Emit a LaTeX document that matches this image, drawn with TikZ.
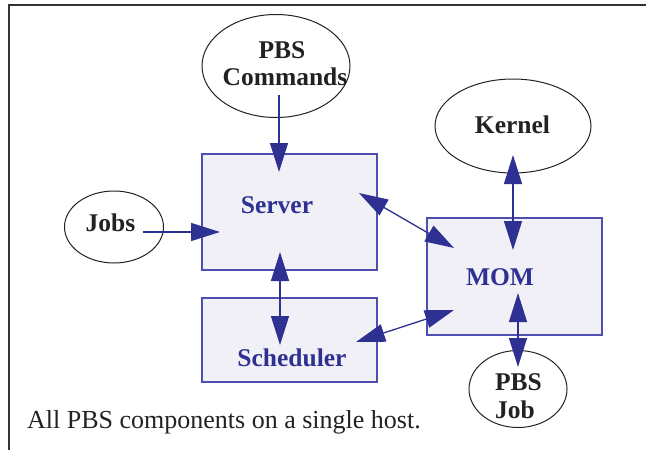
\documentclass[tikz,border=0pt]{standalone}
\usepackage{fontspec}
\setmainfont{Liberation Serif}
\usetikzlibrary{arrows.meta,shapes.geometric,calc}
\definecolor{pbsblue}{HTML}{2E3192}
\definecolor{boxedge}{HTML}{4F4FB0}
\definecolor{boxfill}{HTML}{F1F0F7}
\definecolor{inkgray}{HTML}{222222}
\begin{document}
\begin{tikzpicture}[x=1pt,y=-1pt,
  comp/.style={draw=boxedge, fill=boxfill, line width=1.2pt, rectangle, inner sep=0pt},
  ell/.style={draw=inkgray, fill=white, ellipse, line width=1pt, inner sep=0pt},
  ltxt/.style={font=\fontsize{25.5}{27}\selectfont\bfseries, text=inkgray, align=center, inner sep=0pt},
  btxt/.style={font=\fontsize{25.5}{27}\selectfont\bfseries, text=pbsblue, inner sep=0pt},
  arr/.style={draw=pbsblue, line width=1.3pt, -{Triangle[length=29pt,width=18pt]}},
  darr/.style={draw=pbsblue, line width=1.3pt, {Triangle[length=29pt,width=18pt]}-{Triangle[length=29pt,width=18pt]}}]
\useasboundingbox (0,0) rectangle (646,450);
\draw[line width=1.4pt, draw=black!80] (646,5) -- (9,5) -- (9,450);

% component boxes
\node[comp, minimum width=175pt, minimum height=116pt] (server) at (289.5,212) {};
\node[comp, minimum width=175pt, minimum height=84pt] (sched) at (289.5,340) {};
\node[comp, minimum width=175pt, minimum height=117pt] (mom) at (514.5,276.5) {};

% ellipses
\node[ell, minimum width=148pt, minimum height=103pt] (cmd) at (276,66) {};
\node[ell, minimum width=156pt, minimum height=94pt] (kernel) at (513,126) {};
\node[ell, minimum width=99pt, minimum height=72pt] (jobs) at (114,227) {};
\node[ell, minimum width=98pt, minimum height=77pt] (job) at (518,389) {};

% arrows
\draw[arr] ($(cmd.center)+(3,29)$) -- ($(server.center)+(-10.5,-40)$);
\draw[arr] ($(jobs.center)+(29,5)$) -- ($(server.center)+(-69.5,20)$);
\draw[darr] ($(server.center)+(69.5,-19)$) -- ($(mom.center)+(-60.5,-28.5)$);
\draw[darr] ($(server.center)+(-9.5,40)$) -- ($(sched.center)+(-9.5,5)$);
\draw[darr] ($(sched.center)+(66.5,2)$) -- ($(mom.center)+(-60.5,33.5)$);
\draw[darr] ($(mom.center)+(-1.5,-26.5)$) -- ($(kernel.center)+(0,29)$);
\draw[darr] ($(mom.center)+(3.5,16.5)$) -- ($(job.center)+(0,-22)$);

% labels
\node[btxt] (servert) at (277,205) {Server};
\node[btxt] (schedt) at (292,358) {Scheduler};
\node[btxt] (momt) at (500,277) {MOM};
\node[ltxt] (cmdt1) at (282,50) {PBS};
\node[ltxt] (cmdt2) at (285,77) {Commands};
\node[ltxt] (kernelt) at (512.5,125) {Kernel};
\node[ltxt] (jobst) at (110.5,223) {Jobs};
\node[ltxt] (jobt1) at (518.5,382) {PBS};
\node[ltxt] (jobt2) at (515,410) {Job};

\node[anchor=west, font=\fontsize{26}{29}\selectfont, text=inkgray, inner sep=0pt] (cap) at (27,422) {All PBS components on a single host.};
\end{tikzpicture}
\end{document}
